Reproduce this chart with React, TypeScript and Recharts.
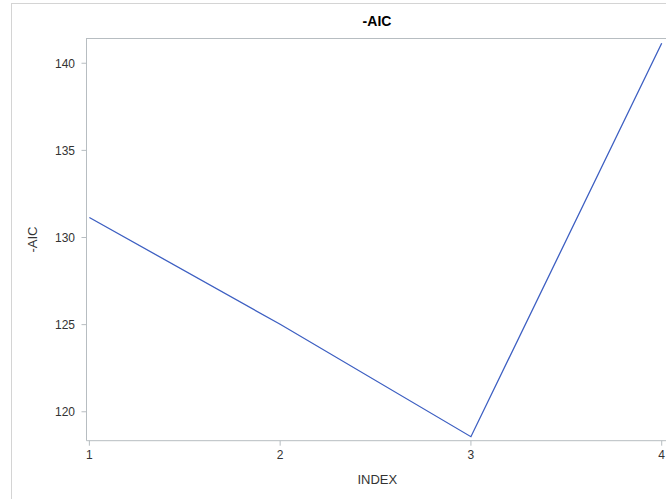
import {Line, LineChart, XAxis, YAxis} from 'recharts'

// index on x, -AIC on y
const indexValues = [1, 2, 3, 4]
const negAic = [131.15, 125.02, 118.57, 141.15]
const xTicks = [1, 2, 3, 4]
const yTicks = [120, 125, 130, 135, 140]

const data = indexValues.map((idx, i) => ({index: idx, aic: negAic[i]}))

const font = 'Arial, "Liberation Sans", sans-serif'
const frame = '#b7bdc1'

export default function App() {
	return (
		<div style={{position: 'absolute', left: 0, top: 0, width: 666, height: 499, overflow: 'hidden', background: '#fff', fontFamily: font}}>
			<div style={{position: 'absolute', left: 11, top: 3, width: 700, height: 540, border: '1px solid #d4d4d4', boxSizing: 'border-box'}} />
			<div style={{position: 'absolute', left: 277, top: 13, width: 200, textAlign: 'center', fontSize: 14, fontWeight: 'bold', color: '#000'}}>
				-AIC
			</div>
			{/* top edge of the plot frame */}
			<div style={{position: 'absolute', left: 86, top: 38, width: 600, height: 1, background: frame}} />
			<div style={{position: 'absolute', left: 0, top: 0}}>
				<LineChart width={668} height={499} data={data} margin={{top: 38.5, right: 0, bottom: 0, left: 0}}>
					<XAxis
						dataKey='index'
						type='number'
						domain={[0.985, 4.033]}
						ticks={xTicks}
						height={58.3}
						tickSize={5}
						tickMargin={5}
						stroke={frame}
						tick={{fontSize: 12, fill: '#333', fontFamily: font}}
						label={{value: 'INDEX', position: 'center', dy: 10, fontSize: 13, fill: '#333', fontFamily: font}}
					/>
					<YAxis
						type='number'
						domain={[118.34, 141.42]}
						ticks={yTicks}
						width={86.5}
						tickSize={5}
						tickMargin={6.5}
						stroke={frame}
						tick={{fontSize: 12, fill: '#333', fontFamily: font}}
						label={{value: '-AIC', angle: -90, position: 'center', dx: -11, fontSize: 13, fill: '#333', fontFamily: font}}
					/>
					<Line
						dataKey='aic'
						type='linear'
						stroke='#3d5fc2'
						strokeWidth={1.3}
						dot={false}
						activeDot={false}
						isAnimationActive={false}
					/>
				</LineChart>
			</div>
		</div>
	)
}
